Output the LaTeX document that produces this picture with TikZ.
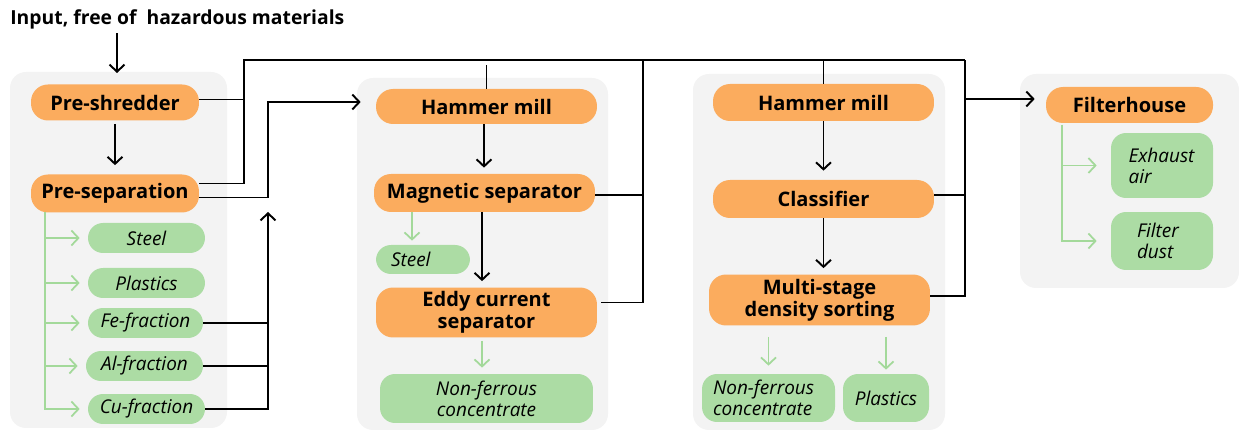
\documentclass[tikz,border=0pt]{standalone}
\usepackage{fontspec}
\setmainfont{Open Sans}
\usetikzlibrary{arrows.meta}
\hyphenpenalty=10000
\exhyphenpenalty=10000
\definecolor{steporange}{HTML}{FBAC5E}
\definecolor{outgreen}{HTML}{ACDCA4}
\definecolor{outline}{HTML}{A3D99A}
\definecolor{groupgray}{HTML}{F3F3F3}
\tikzset{
    proc/.style={fill=steporange, rounded corners=0.34cm, inner sep=0pt, align=center,
        font=\bfseries\fontsize{11.4}{12.6}\selectfont},
    prod/.style={fill=outgreen, rounded corners=0.3cm, inner sep=0pt, align=center,
        font=\itshape\fontsize{10.8}{12}\selectfont},
    prodleft/.style={prod, align=left},
    group/.style={fill=groupgray, rounded corners=0.32cm},
    line/.style={line width=1.1pt},
    flow/.style={line, -{Straight Barb[length=4pt,width=8.5pt]}},
    gflow/.style={draw=outline, line width=1pt, -{Straight Barb[length=4pt,width=8.5pt]}},
}
\begin{document}
\begin{tikzpicture}[x=0.02cm, y=-0.02cm]
    \useasboundingbox (0,0) rectangle (1239,431);

    \fill[group] (10,72) rectangle (227,428);
    \fill[group] (357,78) rectangle (608,430);
    \fill[group] (693,74) rectangle (945,430);
    \fill[group] (1020,74) rectangle (1239,288);

    \node[anchor=west, inner sep=0pt, font=\bfseries\fontsize{11}{13}\selectfont] (input) at (10,19) {Input, free of~ hazardous materials};

    \node[proc, minimum width=3.36cm, minimum height=0.72cm] (shred) at (115,102.5) {Pre-shredder};
    \node[proc, minimum width=3.36cm, minimum height=0.76cm] (presep) at (115,193.5) {Pre-separation};
    \node[prod, minimum width=2.34cm, minimum height=0.6cm] (steel) at (146.5,238) {Steel};
    \node[prod, minimum width=2.34cm, minimum height=0.6cm] (plast) at (146.5,283) {Plastics};
    \node[prod, minimum width=2.3cm, minimum height=0.6cm] (fe) at (145.5,323) {Fe-fraction};
    \node[prod, minimum width=2.34cm, minimum height=0.6cm] (al) at (144.5,366) {Al-fraction};
    \node[prod, minimum width=2.34cm, minimum height=0.6cm] (cu) at (146.5,409) {Cu-fraction};

    \node[proc, minimum width=4.42cm, minimum height=0.7cm] (hammerA) at (486.5,106.5) {Hammer mill};
    \node[proc, minimum width=4.42cm, minimum height=0.76cm] (magsep) at (484.5,193) {Magnetic separator};
    \node[prodleft, text width=1.28cm, inner xsep=0.3cm, minimum height=0.58cm] (steelB) at (423,259.5) {Steel};
    \node[proc, minimum width=4.42cm, minimum height=1cm] (eddy) at (486.5,312.5) {Eddy current\\separator};
    \node[prod, minimum width=4.26cm, minimum height=0.98cm] (nonfeA) at (486.5,398.5) {Non-ferrous\\concentrate};

    \node[proc, minimum width=4.42cm, minimum height=0.74cm] (hammerB) at (823.5,102.5) {Hammer mill};
    \node[proc, minimum width=4.42cm, minimum height=0.76cm] (classif) at (823.5,199) {Classifier};
    \node[proc, minimum width=4.42cm, minimum height=1.02cm] (density) at (819.5,300) {Multi-stage\\density sorting};
    \node[prodleft, text width=2.22cm, inner xsep=0.22cm, minimum height=0.96cm] (nonfeB) at (768.5,398) {Non-ferrous\\concentrate};
    \node[prod, minimum width=1.72cm, minimum height=0.96cm] (plastB) at (886,398) {Plastics};

    \node[proc, minimum width=3.34cm, minimum height=0.72cm] (filter) at (1129.5,105) {Filterhouse};
    \node[prodleft, text width=1.34cm, inner xsep=0.35cm, minimum height=1.3cm] (exhaust) at (1162,165.5) {Exhaust\\air};
    \node[prodleft, text width=1.0cm, inner xsep=0.52cm, minimum height=1.16cm] (dust) at (1162,241) {Filter\\dust};

    \coordinate (inend) at (117,73);
    \coordinate (busL) at (244,60);
    \coordinate (busM) at (643,60);
    \coordinate (busR) at (965,60);
    \coordinate (upA) at (268,102);
    \coordinate (back) at (268,212);
    \coordinate (treeA) at (45,212);
    \coordinate (treeB) at (1062,125);

    \draw[flow] (inend |- input.south) ++(0,4) -- (inend);
    \draw[flow, shorten >=0.18cm, shorten <=0.06cm] (shred) -- (presep);

    \draw[line] ([yshift=0.06cm]shred.east) -- ([yshift=0.06cm]shred.east -| busL);
    \draw[line] ([yshift=0.2cm]presep.east) -| (busL) -- (busR);
    \draw[flow, shorten >=0.3cm] ([yshift=-0.08cm]presep.east) -| (upA) -- (upA -| hammerA.west);
    \draw[line] (fe.east) -- (fe.east -| back);
    \draw[line] (al.east) -- (al.east -| back);
    \draw[flow] (cu.east) -| (back);
    \foreach \out in {steel, plast, fe, al, cu} {
        \draw[gflow, shorten >=0.16cm] (treeA) |- (\out.west);
    }

    \draw[line, shorten >=0.1cm] (hammerA.north) -- (hammerA.north |- busL);
    \draw[flow, shorten >=0.12cm] (hammerA.south -| 484,0) -- (magsep.north -| 484,0);
    \draw[flow, shorten >=0.12cm] (magsep.south -| 482,0) -- (eddy.north -| 482,0);
    \draw[line] ([yshift=-0.04cm]magsep.east) -- ([yshift=-0.04cm]magsep.east -| busM);
    \draw[line, shorten <=0.08cm] ([yshift=0.2cm]eddy.east) -| (busM);
    \draw[gflow, shorten >=0.08cm] ([xshift=-0.22cm]steelB.north |- magsep.south) -- ([xshift=-0.22cm]steelB.north);
    \draw[gflow, shorten <=0.06cm, shorten >=0.12cm] (eddy.south -| 482,0) -- (nonfeA.north -| 482,0);

    \draw[line] (hammerB.north) -- (hammerB.north |- busR);
    \draw[flow, shorten >=0.18cm] (hammerB.south) -- (classif.north);
    \draw[flow, shorten >=0.12cm] (classif.south) -- (classif.south |- density.north);
    \draw[line] ([yshift=0.08cm]classif.east) -- ([yshift=0.08cm]classif.east -| busR);
    \draw[line] ([yshift=0.08cm]density.east) -| (busR);
    \draw[gflow, shorten <=0.22cm, shorten >=0.16cm] (nonfeB.north |- density.south) -- (nonfeB.north);
    \draw[gflow, shorten <=0.22cm, shorten >=0.08cm] (plastB.north |- density.south) -- (plastB.north);

    \draw[flow, shorten >=0.22cm] ([yshift=0.12cm]filter.west -| busR) -- ([yshift=0.12cm]filter.west);
    \foreach \out in {exhaust, dust} {
        \draw[gflow, shorten >=0.28cm] (treeB) |- (\out.west);
    }
\end{tikzpicture}
\end{document}
